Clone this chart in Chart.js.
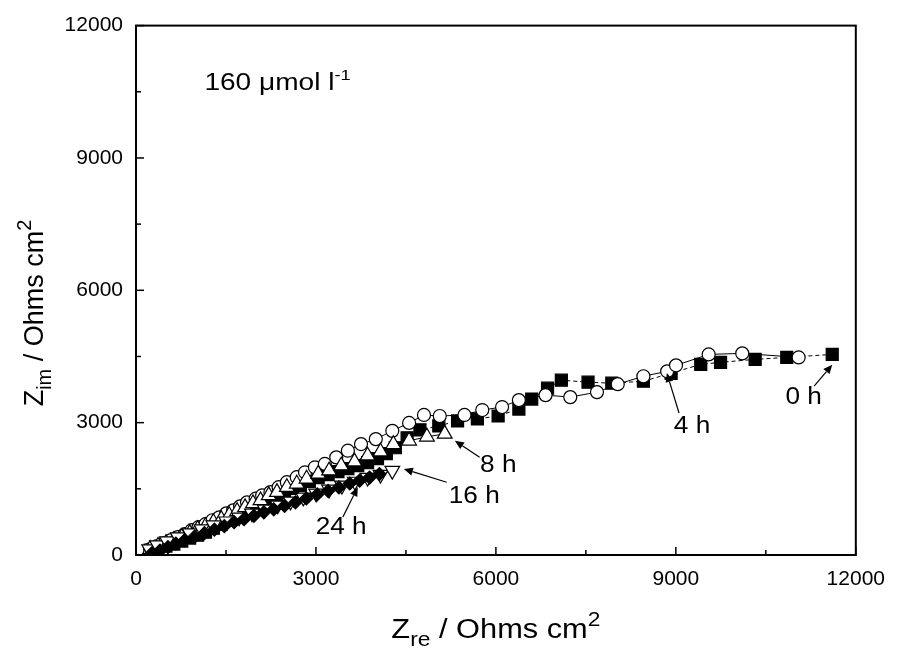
<!DOCTYPE html>
<html>
<head>
<meta charset="utf-8">
<script src="https://cdn.jsdelivr.net/npm/chart.js@4.4.1/dist/chart.umd.min.js"></script>
<style>
  html, body { margin: 0; padding: 0; background: #fff; }
  #wrap { width: 897px; height: 653px; }
</style>
</head>
<body>
<div id="wrap"><canvas id="nyquist" width="897" height="653"></canvas></div>
<script>
// Zre / Zim in Ohms cm2 (high frequency first)
const zre0h = [236,367,499,631,763,895,1027,1158,1290,1422,1554,1686,1818,1949,2081,2213,2345,2477,2609,2740,2889,3037,3202,3367,3532,3697,3861,4026,4174,4323,4520,4734,5048,5361,5691,6037,6383,6597,6861,7091,7536,7932,8459,8921,9415,9745,10322,10849,11607];
const zim0h = [113,158,203,248,315,383,450,518,608,698,788,878,968,1058,1148,1238,1328,1418,1508,1576,1666,1756,1823,1891,1958,2026,2093,2183,2296,2431,2656,2836,2926,3039,3084,3151,3309,3534,3782,3962,3917,3894,3939,4119,4322,4367,4434,4479,4547];

const zre4h = [236,351,466,582,697,812,928,1043,1158,1274,1389,1505,1620,1735,1851,1994,2103,2241,2378,2515,2680,2818,2983,3148,3339,3532,3751,3998,4273,4553,4801,5064,5476,5773,6103,6383,6828,7240,7685,8031,8459,8855,9003,9547,10107,11047];
const zim4h = [135,203,270,338,405,473,563,630,698,788,855,945,1013,1103,1193,1276,1351,1425,1537,1650,1763,1875,1988,2064,2213,2364,2514,2627,2814,2994,3174,3151,3174,3286,3354,3512,3624,3579,3692,3872,4052,4164,4299,4547,4570,4479];

const zre8h = [236,367,499,631,763,895,1027,1158,1290,1422,1554,1686,1818,1950,2076,2213,2350,2515,2680,2844,3037,3219,3421,3642,3861,4076,4290,4553,4850,5147];
const zim8h = [135,203,270,338,405,495,585,653,743,810,900,990,1080,1171,1238,1351,1425,1537,1614,1727,1839,1913,2026,2116,2251,2341,2510,2589,2679,2746];

const zre16h = [219,351,516,697,895,1093,1290,1505,1719,1933,2147,2362,2576,2790,3004,3219,3433,3648,3861,4076,4273];
const zim16h = [135,225,315,405,495,585,675,765,855,945,1036,1126,1216,1306,1396,1486,1576,1666,1756,1823,1913];

const zre24h = [268,400,532,664,813,977,1142,1307,1472,1636,1801,1966,2131,2296,2477,2658,2840,3021,3202,3383,3564,3729,3894,4059];
const zim24h = [45,101,180,259,338,416,495,574,653,743,810,889,968,1036,1114,1193,1283,1373,1452,1531,1621,1688,1756,1835];

// ejes
const ejeMin = 0;
const ejeMax = 12000;
const pasoMayor = 3000;
const pasoMenor = 1500;

// etiquetas de tiempo con su flecha (unidades de datos)
const etiquetas = ['0 h', '4 h', '8 h', '16 h', '24 h'];
const posEtiqueta = [[11130, 3560], [9270, 2900], [6040, 2030], [5640, 1330], [3420, 630]];
const flechaDesde = [[11305, 3827], [9053, 3219], [5728, 2213], [5180, 1650], [3449, 862]];
const flechaHasta = [[11607, 4315], [8850, 4126], [5316, 2589], [4466, 1952], [3697, 1537]];
const posConcentracion = [1140, 10540];

const FUENTE = '"Liberation Sans", Arial, Helvetica, sans-serif';
const ESTIRAR = 1.14; // el original está algo ensanchado en horizontal

const puntos = (xs, ys) => xs.map((v, i) => ({ x: v, y: ys[i] }));

function textoCompuesto(ctx, partes, x, y, alinear, estirar) {
    // partes: [texto, tamaño, desplazamiento vertical]
    let ancho = 0;
    partes.forEach(p => {
        ctx.font = `${p[1]}px ${FUENTE}`;
        ancho += ctx.measureText(p[0]).width;
    });
    ctx.save();
    ctx.translate(x, y);
    ctx.scale(estirar, 1);
    let cx = alinear === 'center' ? -ancho / 2 : 0;
    partes.forEach(p => {
        ctx.font = `${p[1]}px ${FUENTE}`;
        ctx.fillText(p[0], cx, p[2]);
        cx += ctx.measureText(p[0]).width;
    });
    ctx.restore();
}

function flecha(ctx, x1, y1, x2, y2) {
    const ang = Math.atan2(y2 - y1, x2 - x1);
    const largo = 9, ancho = 4;
    ctx.beginPath();
    ctx.moveTo(x1, y1);
    ctx.lineTo(x2 - Math.cos(ang) * largo, y2 - Math.sin(ang) * largo);
    ctx.stroke();
    ctx.beginPath();
    ctx.moveTo(x2, y2);
    ctx.lineTo(x2 - Math.cos(ang) * largo - Math.sin(ang) * ancho, y2 - Math.sin(ang) * largo + Math.cos(ang) * ancho);
    ctx.lineTo(x2 - Math.cos(ang) * largo + Math.sin(ang) * ancho, y2 - Math.sin(ang) * largo - Math.cos(ang) * ancho);
    ctx.closePath();
    ctx.fill();
}

const decoraciones = {
    id: 'decoraciones',
    afterDraw(chart) {
        const { ctx, chartArea: a, scales: { x, y } } = chart;
        ctx.save();
        ctx.strokeStyle = '#000';
        ctx.fillStyle = '#000';

        // marco
        ctx.lineWidth = 2;
        ctx.strokeRect(a.left, a.top, a.right - a.left, a.bottom - a.top);

        // marcas hacia dentro
        ctx.lineWidth = 1.5;
        for (let v = ejeMin; v <= ejeMax; v += pasoMenor) {
            const largo = v % pasoMayor === 0 ? 8 : 5;
            const px = x.getPixelForValue(v);
            ctx.beginPath(); ctx.moveTo(px, a.bottom); ctx.lineTo(px, a.bottom - largo); ctx.stroke();
            const py = y.getPixelForValue(v);
            ctx.beginPath(); ctx.moveTo(a.left, py); ctx.lineTo(a.left + largo, py); ctx.stroke();
        }

        // títulos de ejes
        ctx.textAlign = 'left';
        ctx.textBaseline = 'alphabetic';
        textoCompuesto(ctx, [['Z', 27, 0], ['re', 20, 8], [' / Ohms cm', 27, 0], ['2', 20, -12]],
            (a.left + a.right) / 2, 638, 'center', ESTIRAR);
        ctx.save();
        ctx.translate(43, 313);
        ctx.rotate(-Math.PI / 2);
        textoCompuesto(ctx, [['Z', 27, 0], ['im', 20, 8], [' / Ohms cm', 27, 0], ['2', 20, -12]], 0, 0, 'center', 1);
        ctx.restore();

        // concentración
        textoCompuesto(ctx, [['160 \u03bcmol l', 23, 0], ['-1', 15, -10]],
            x.getPixelForValue(posConcentracion[0]), y.getPixelForValue(posConcentracion[1]), 'left', 1.22);

        // etiquetas y flechas
        ctx.lineWidth = 1.2;
        ctx.textBaseline = 'middle';
        etiquetas.forEach((t, i) => {
            textoCompuesto(ctx, [[t, 23, 0]],
                x.getPixelForValue(posEtiqueta[i][0]), y.getPixelForValue(posEtiqueta[i][1]), 'center', ESTIRAR);
            flecha(ctx,
                x.getPixelForValue(flechaDesde[i][0]), y.getPixelForValue(flechaDesde[i][1]),
                x.getPixelForValue(flechaHasta[i][0]), y.getPixelForValue(flechaHasta[i][1]));
        });
        ctx.restore();
    }
};

const base = {
    showLine: true,
    borderColor: '#000',
    borderWidth: 1,
    pointBorderColor: '#000',
    pointBorderWidth: 1.2,
    pointHoverRadius: 0
};

new Chart(document.getElementById('nyquist').getContext('2d'), {
    type: 'scatter',
    data: {
        datasets: [
            { ...base, label: '24 h', data: puntos(zre24h, zim24h), pointStyle: 'rectRot', pointRadius: 6.5, pointBackgroundColor: '#000', order: 1 },
            { ...base, label: '16 h', data: puntos(zre16h, zim16h), pointStyle: 'triangle', rotation: 180, pointRadius: 8.5, pointBackgroundColor: '#fff', order: 2 },
            { ...base, label: '8 h', data: puntos(zre8h, zim8h), pointStyle: 'triangle', pointRadius: 8.5, pointBackgroundColor: '#fff', order: 3 },
            { ...base, label: '4 h', data: puntos(zre4h, zim4h), pointStyle: 'circle', pointRadius: 6.5, pointBackgroundColor: '#fff', order: 4 },
            { ...base, label: '0 h', data: puntos(zre0h, zim0h), pointStyle: 'rect', pointRadius: 8.5, pointBackgroundColor: '#000', borderDash: [4, 3], order: 5 }
        ]
    },
    options: {
        responsive: false,
        animation: false,
        events: [],
        layout: { padding: { top: 22, right: 33, left: 0, bottom: 0 } },
        scales: {
            x: {
                type: 'linear',
                min: ejeMin,
                max: ejeMax,
                grid: { display: false, drawTicks: false },
                border: { display: false },
                ticks: { stepSize: pasoMayor, padding: 12, color: '#000', maxRotation: 0,
                         font: { size: 21, family: FUENTE }, callback: v => String(v) },
                afterFit: s => { s.height = 98; }
            },
            y: {
                type: 'linear',
                min: ejeMin,
                max: ejeMax,
                grid: { display: false, drawTicks: false },
                border: { display: false },
                ticks: { stepSize: pasoMayor, padding: 13, color: '#000',
                         font: { size: 21, family: FUENTE }, callback: v => String(v) },
                afterFit: s => { s.width = 136; }
            }
        },
        plugins: {
            legend: { display: false },
            tooltip: { enabled: false }
        }
    },
    plugins: [decoraciones]
});
</script>
</body>
</html>
